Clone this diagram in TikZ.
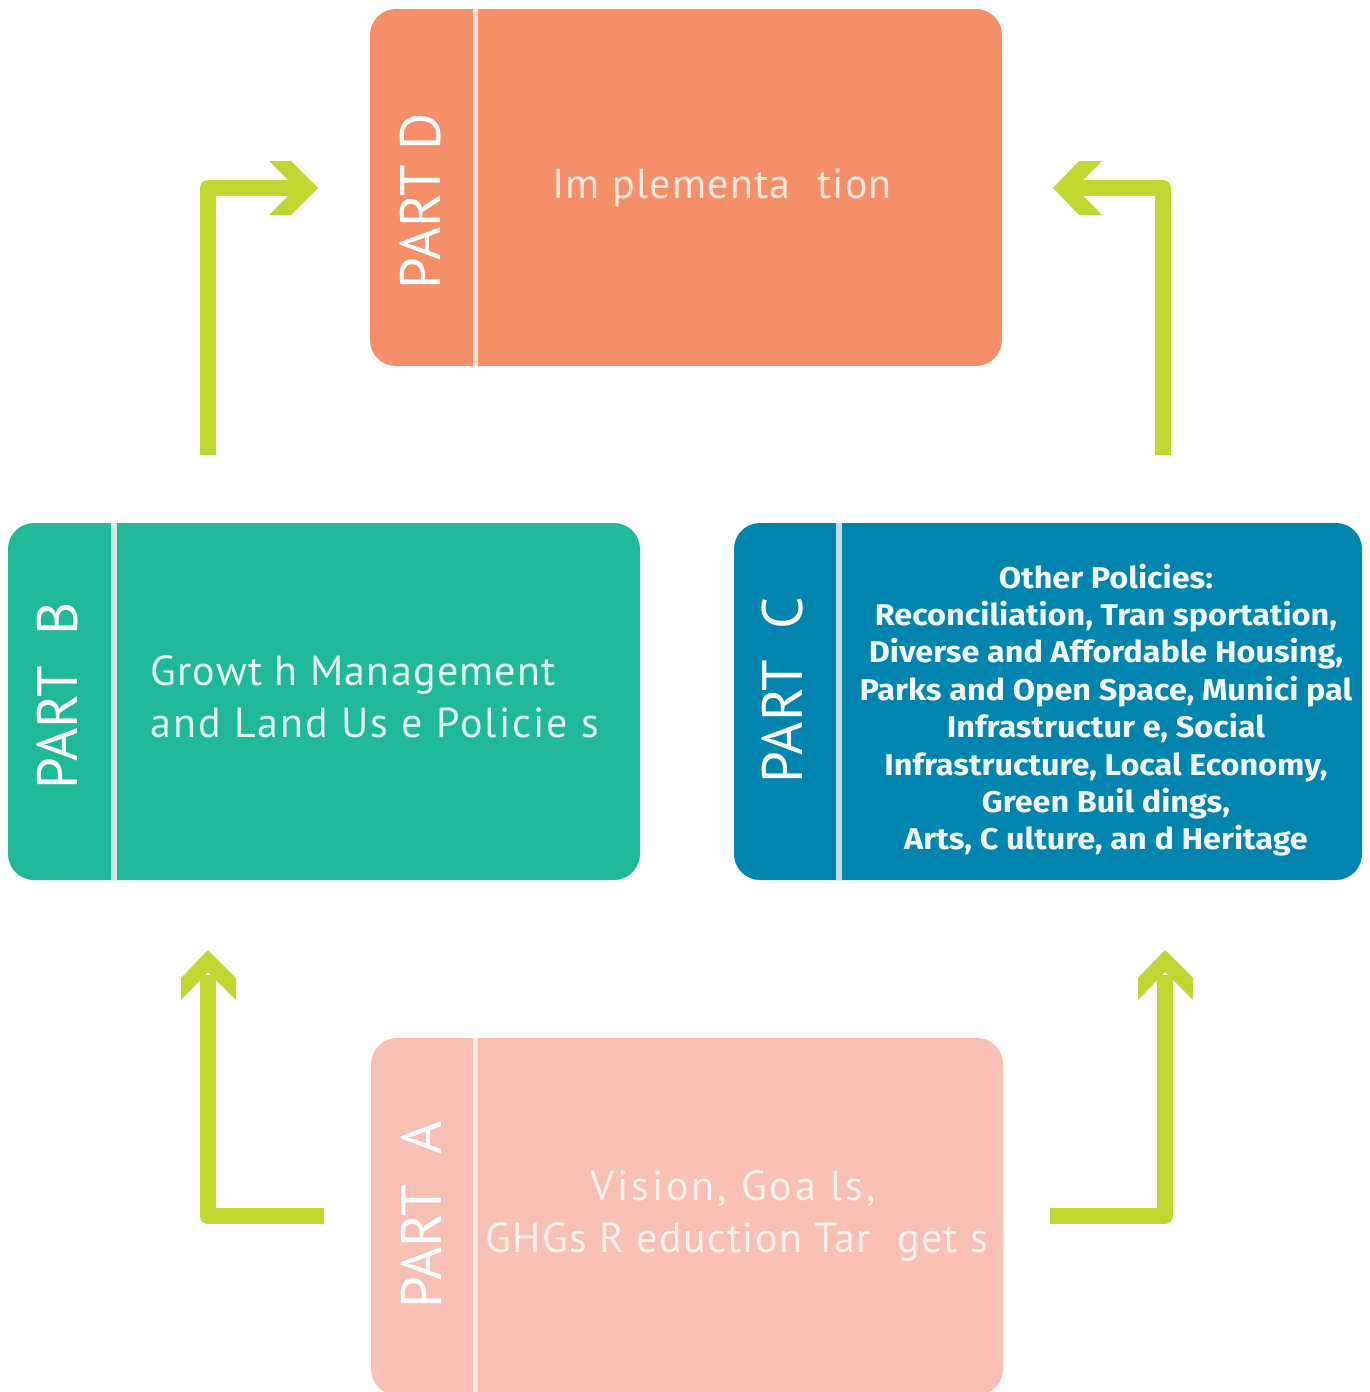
\documentclass[tikz,border=0pt]{standalone}
\usepackage{fontspec}
\setmainfont{PT Sans}
\newfontfamily\cfont[FakeStretch=1.08]{Fira Sans}
\definecolor{cD}{HTML}{F58F69}
\definecolor{cB}{HTML}{20B997}
\definecolor{cC}{HTML}{0185AE}
\definecolor{cA}{HTML}{F8BFB4}
\definecolor{arr}{HTML}{C0D631}
\definecolor{dvD}{HTML}{FDE0D2}
\definecolor{dvB}{HTML}{D2EAE2}
\definecolor{dvC}{HTML}{C8DDE6}
\definecolor{dvA}{HTML}{FDEDEA}
\definecolor{tD}{HTML}{FDE8DE}
\definecolor{tB}{HTML}{E2F5EF}
\definecolor{tA}{HTML}{FFF2EE}
\definecolor{tC}{HTML}{F2F6F8}
\begin{document}
\begin{tikzpicture}[x=1pt,y=-1pt,
  partbox/.style={rounded corners=26pt, minimum width=632pt, minimum height=357pt, inner sep=0pt, draw=none},
  divider/.style={line width=5.5pt},
  partlabel/.style={rotate=90, text=white, font=\fontsize{57}{60}\selectfont, inner sep=0pt},
  conn/.style={draw=arr, line width=16pt, line join=round},
  tipfill/.style={fill=arr},
  maintext/.style={font=\fontsize{42}{52}\selectfont\addfontfeature{LetterSpace=3}, inner sep=0pt, anchor=base},
  ctext/.style={font=\cfont\bfseries\fontsize{30}{32}\selectfont, text=tC, inner sep=0pt, anchor=base}
]
\clip (0,0) rectangle (1369,1392);
\useasboundingbox (0,0) rectangle (1369,1392);

% boxes
\node[partbox, fill=cD] (D) at (686,187.5) {};
\node[partbox, fill=cB] (B) at (324,701.5) {};
\node[partbox, fill=cC, minimum width=628pt] (C) at (1048,701.5) {};
\node[partbox, fill=cA] (A) at (687,1216.5) {};

% dividers
\draw[divider, dvD] ([xshift=105.5pt]D.north west) -- ([xshift=105.5pt]D.south west);
\draw[divider, dvB] ([xshift=106pt]B.north west) -- ([xshift=106pt]B.south west);
\draw[divider, dvC] ([xshift=105pt]C.north west) -- ([xshift=105pt]C.south west);
\draw[divider, dvA] ([xshift=104.5pt]A.north west) -- ([xshift=104.5pt]A.south west);

% part labels
\node[partlabel] (lD) at (420,201) {PART D};
\node[partlabel] (lB) at (57,696) {PART\ \ B};
\node[partlabel] (lC) at (783,690) {PART\ \ C};
\node[partlabel] (lA) at (421,1215) {PART\ \ A};

% texts
\node[maintext, text=tD] (tDx) at (722,198) {Im plementa\hspace{14pt} tion};
\node[maintext, text=tB, anchor=base west] (tB1) at (150,685) {Growt h Management};
\node[maintext, text=tB, anchor=base west, font=\fontsize{42}{52}\selectfont\addfontfeature{LetterSpace=5}] (tB2) at (150,737) {and Land Us e Policie s};
\node[maintext, text=tA, font=\fontsize{42}{52}\selectfont\addfontfeature{LetterSpace=7}] (tA1) at (733,1200) {Vision, Goa ls,};
\node[maintext, text=tA] (tA2) at (737,1252) {GHGs R eduction Tar\hspace{14pt} get s};

\foreach \i/\t in {1/{Other Policies:},2/{Reconciliation, Tran sportation,},3/{Diverse and Affordable Housing,},4/{Parks and Open Space, Munici pal},5/{Infrastructur e, Social},6/{Infrastructure, Local Economy,},7/{Green Buil dings,},8/{Arts, C ulture, an d Heritage}}
  \node[ctext] (c\i) at (1106,{588+(\i-1)*37.4}) {\t};

% connector coordinates
\coordinate (ab0) at (324,1216);
\coordinate (ab1) at (208,975);
\coordinate (abT) at (208,950);
\coordinate (ac0) at (1050,1216);
\coordinate (ac1) at (1165,975);
\coordinate (acT) at (1165,950);
\coordinate (bd0) at (208,455);
\coordinate (bd1) at (300,188);
\coordinate (bdT) at (318,188);
\coordinate (cd0) at (1163,455);
\coordinate (cd1) at (1070,188);
\coordinate (cdT) at (1053,188);

\draw[conn] (ab0) -| (ab1);
\draw[conn] (ac0) -| (ac1);
\draw[conn] (bd0) |- (bd1);
\draw[conn] (cd0) |- (cd1);

% chevron heads
\begin{scope}[shift={(abT)}]
  \fill[tipfill] (0,0) -- (28,28) -- (28,50) -- (0,22) -- (-27,50) -- (-27,28) -- cycle;
\end{scope}
\begin{scope}[shift={(acT)}]
  \fill[tipfill] (0,0) -- (28,28) -- (28,50) -- (0,22) -- (-27,50) -- (-27,28) -- cycle;
\end{scope}
\begin{scope}[shift={(bdT)}]
  \fill[tipfill] (0,0) -- (-27,-27) -- (-49,-27) -- (-22,0) -- (-49,27) -- (-27,27) -- cycle;
\end{scope}
\begin{scope}[shift={(cdT)}]
  \fill[tipfill] (0,0) -- (26,-27) -- (49,-27) -- (22,0) -- (49,27) -- (26,27) -- cycle;
\end{scope}
\end{tikzpicture}
\end{document}
